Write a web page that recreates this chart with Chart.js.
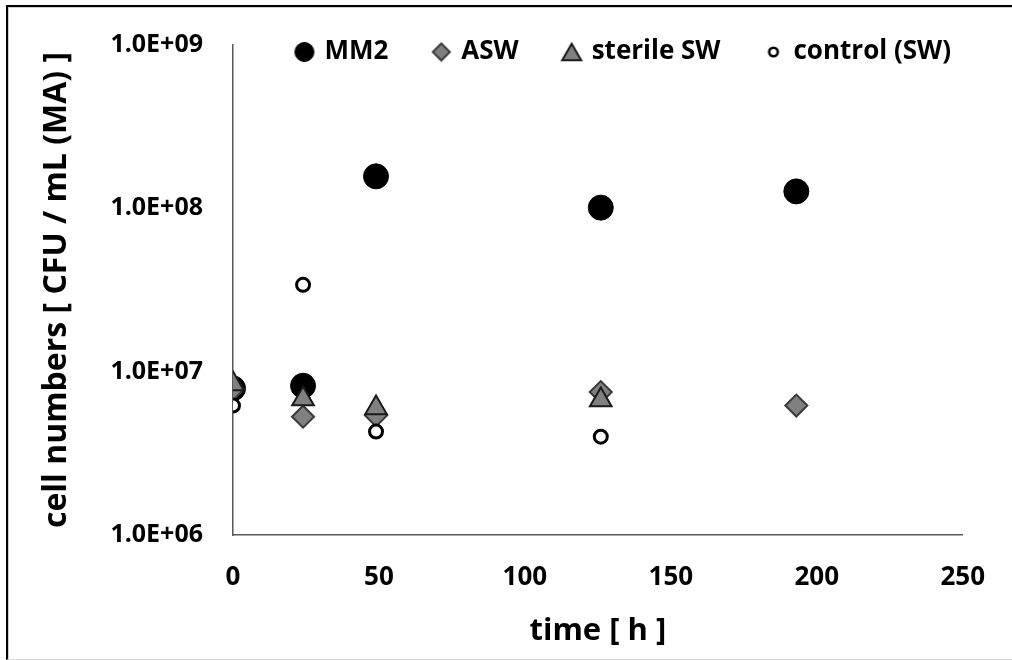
<!DOCTYPE html>
<html>
<head>
<meta charset="utf-8">
<script src="https://cdn.jsdelivr.net/npm/chart.js@4"></script>
<style>
  body { margin: 0; background: #fff; }
  #wrap { position: absolute; left: 0; top: 0; width: 1012px; height: 660px; }
  #frame {
    position: absolute; left: 6px; top: 5px; width: 1100px; height: 652px;
    border-left: 2px solid #000; border-top: 2px solid #000; border-bottom: 1px solid #d9d9d9;
    box-shadow: inset 1px 1px 0 #cfcfcf; pointer-events: none;
  }
</style>
</head>
<body>
<div id="wrap"><canvas id="chart"></canvas></div>
<div id="frame"></div>
<script>
// tiempo de muestreo [h] y recuentos [CFU/mL]
var timeMM2 = [0, 24, 49, 126, 193];
var cellsMM2 = [7.9e6, 8.2e6, 1.57e8, 1.01e8, 1.27e8];

var timeASW = [0, 24, 49, 126, 193];
var cellsASW = [7.8e6, 5.3e6, 5.4e6, 7.5e6, 6.2e6];

var timeSterile = [0, 24, 49, 126];
var cellsSterile = [8.4e6, 6.8e6, 6.0e6, 6.7e6];

var timeControl = [0, 24, 49, 126];
var cellsControl = [6.2e6, 3.4e7, 4.3e6, 4.0e6];

var seriesNames = ['MM2', 'ASW', 'sterile SW', 'control (SW)'];
var yTicks = [1e6, 1e7, 1e8, 1e9];
var xTicks = [0, 50, 100, 150, 200, 250];

function toPoints(xs, ys) {
  return xs.map(function(x, i) { return {x: x, y: ys[i]}; });
}

function sci(v) {
  var e = Math.floor(Math.log10(v) + 1e-9);
  var m = v / Math.pow(10, e);
  return m.toFixed(1) + 'E' + (e < 0 ? '-' : '+') + (Math.abs(e) < 10 ? '0' : '') + Math.abs(e);
}

// marcadores pequeños para la leyenda (cada uno con su tamaño)
function legendMark(style, r, fill, stroke, lw) {
  var s = Math.ceil(2 * r + lw + 2);
  var c = document.createElement('canvas');
  c.width = s; c.height = s;
  var g = c.getContext('2d');
  var x = s / 2, y = s / 2;
  g.beginPath();
  if (style === 'circle') {
    g.arc(x, y, r, 0, Math.PI * 2);
  } else if (style === 'rectRot') {
    g.moveTo(x - r, y); g.lineTo(x, y - r); g.lineTo(x + r, y); g.lineTo(x, y + r);
  } else if (style === 'triangle') {
    y = s / 2 + r * 0.25;
    g.moveTo(x, y - r);
    g.lineTo(x + r * 0.866, y + r * 0.5);
    g.lineTo(x - r * 0.866, y + r * 0.5);
  }
  g.closePath();
  g.fillStyle = fill; g.fill();
  g.lineWidth = lw; g.strokeStyle = stroke; g.stroke();
  return c;
}

var legendMarks = [
  legendMark('circle', 9.5, '#000', '#000', 1),
  legendMark('rectRot', 8.5, '#808080', '#3a3a3a', 2),
  legendMark('triangle', 11, '#808080', '#1a1a1a', 2),
  legendMark('circle', 4.3, '#fff', '#000', 2.6)
];

// la leyenda va dentro del grafico, arriba (como en Excel)
var legendInside = {
  id: 'legendInside',
  afterLayout: function(chart) {
    var lg = chart.legend;
    if (!lg) return;
    var lab = lg.options.labels;
    lg.top = 52 - lab.padding - lab.font.size / 2;
    lg.bottom = lg.top + lab.padding + 60;
    lg.left += 24;
    lg.right += 24;
  }
};

var font = 'Open Sans';

var ctx = document.getElementById('chart').getContext('2d');
var chart = new Chart(ctx, {
  type: 'scatter',
  data: {
    datasets: [{
      label: seriesNames[0],
      data: toPoints(timeMM2, cellsMM2),
      pointStyle: 'circle',
      pointRadius: 12.5,
      backgroundColor: '#000',
      borderColor: '#000',
      borderWidth: 1,
      order: 4
    }, {
      label: seriesNames[1],
      data: toPoints(timeASW, cellsASW),
      pointStyle: 'rectRot',
      pointRadius: 11,
      backgroundColor: '#808080',
      borderColor: '#3a3a3a',
      borderWidth: 2,
      order: 3
    }, {
      label: seriesNames[2],
      data: toPoints(timeSterile, cellsSterile),
      pointStyle: 'triangle',
      pointRadius: 12.5,
      backgroundColor: '#808080',
      borderColor: '#1a1a1a',
      borderWidth: 2,
      order: 2
    }, {
      label: seriesNames[3],
      data: toPoints(timeControl, cellsControl),
      pointStyle: 'circle',
      pointRadius: 6.5,
      backgroundColor: '#fff',
      borderColor: '#000',
      borderWidth: 3,
      order: 1
    }]
  },
  options: {
    responsive: true,
    maintainAspectRatio: false,
    animation: false,
    layout: { padding: { left: 10, top: 44, right: 39, bottom: 0 } },
    scales: {
      x: {
        type: 'linear',
        min: 0,
        max: 250,
        afterBuildTicks: function(scale) {
          scale.ticks = xTicks.map(function(v) { return {value: v}; });
        },
        afterFit: function(scale) { scale.height = 125; },
        grid: { display: false, drawTicks: false },
        border: { display: true, color: '#595959', width: 1.5 },
        ticks: { color: '#000', padding: 27, font: { family: font, size: 26, weight: 'bold' } },
        title: {
          display: true,
          text: 'time [ h ]',
          color: '#000',
          padding: { top: 0, bottom: 10 },
          font: { family: font, size: 31, weight: 'bold' }
        }
      },
      y: {
        type: 'logarithmic',
        min: 1e6,
        max: 1e9,
        afterBuildTicks: function(scale) {
          scale.ticks = yTicks.map(function(v) { return {value: v}; });
        },
        afterFit: function(scale) { scale.width = 223; },
        grid: { display: false, drawTicks: false },
        border: { display: true, color: '#595959', width: 1.5 },
        ticks: {
          color: '#000',
          padding: 30,
          font: { family: font, size: 25, weight: 'bold' },
          callback: function(v) { return sci(v); }
        },
        title: {
          display: true,
          text: 'cell numbers [ CFU / mL (MA) ]',
          color: '#000',
          padding: { top: 28, bottom: 0 },
          font: { family: font, size: 32, weight: 'bold' }
        }
      }
    },
    plugins: {
      legend: {
        position: 'top',
        align: 'end',
        maxHeight: 1,
        labels: {
          usePointStyle: true,
          boxWidth: 14,
          boxHeight: 14,
          padding: 46,
          color: '#000',
          font: { family: font, size: 26, weight: 'bold' },
          sort: function(a, b) { return a.datasetIndex - b.datasetIndex; },
          generateLabels: function(chart) {
            var items = Chart.defaults.plugins.legend.labels.generateLabels(chart);
            items.forEach(function(it) { it.pointStyle = legendMarks[it.datasetIndex]; });
            return items;
          }
        }
      },
      tooltip: { enabled: false }
    }
  },
  plugins: [legendInside]
});
</script>
</body>
</html>
